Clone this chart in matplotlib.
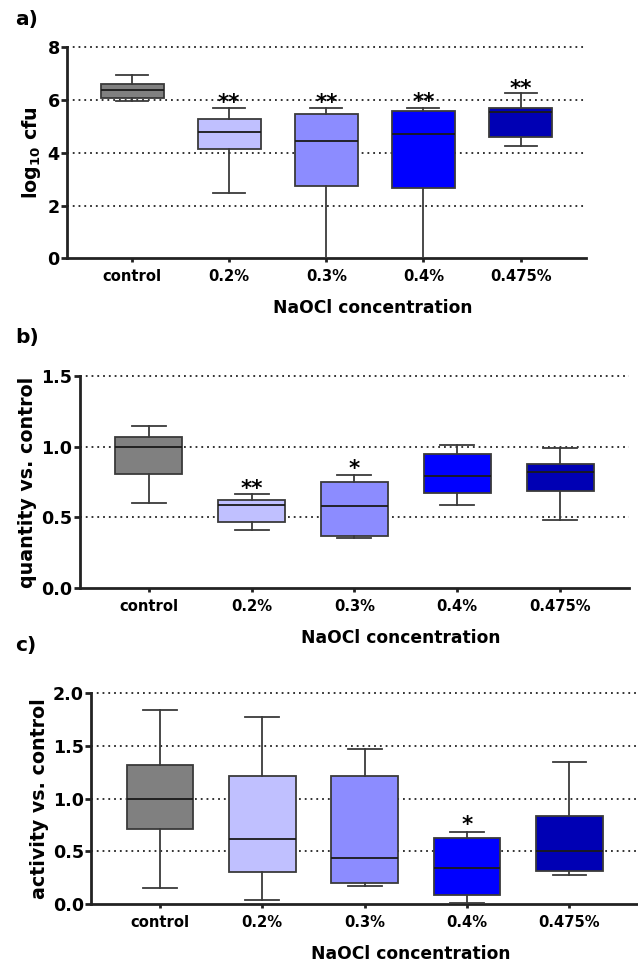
import matplotlib.pyplot as plt

plt.rcParams['font.family'] = ['DejaVu Sans']
plt.rcParams['font.weight'] = 'bold'

categories = ["control", "0.2%", "0.3%", "0.4%", "0.475%"]
colors = ["#808080", "#c0c0ff", "#8c8cff", "#0000ff", "#0000b4"]

# box stats per group: (whisker low, Q1, median, Q3, whisker high)
cfu_stats = [
    (5.97, 6.08, 6.38, 6.60, 6.95),
    (2.48, 4.16, 4.77, 5.27, 5.68),
    (0.0, 2.76, 4.46, 5.48, 5.68),
    (0.0, 2.65, 4.71, 5.60, 5.68),
    (4.25, 4.59, 5.53, 5.70, 6.25),
]
cfu_stars = ["", "**", "**", "**", "**"]
cfu_star_y = [0, 5.88, 5.88, 5.92, 6.40]

quantity_stats = [
    (0.601, 0.804, 1.0, 1.066, 1.149),
    (0.413, 0.467, 0.590, 0.620, 0.663),
    (0.356, 0.368, 0.580, 0.748, 0.802),
    (0.590, 0.672, 0.795, 0.946, 1.009),
    (0.479, 0.684, 0.821, 0.875, 0.990),
]
quantity_stars = ["", "**", "*", "", ""]
quantity_star_y = [0, 0.70, 0.84, 0, 0]

activity_stats = [
    (0.158, 0.711, 0.998, 1.321, 1.836),
    (0.038, 0.306, 0.616, 1.217, 1.773),
    (0.174, 0.202, 0.436, 1.213, 1.472),
    (0.010, 0.092, 0.341, 0.629, 0.686),
    (0.278, 0.319, 0.506, 0.837, 1.352),
]
activity_stars = ["", "", "", "*", ""]
activity_star_y = [0, 0, 0, 0.75, 0]


def drawPanel(ax, stats, stars, starY, ylim, yticks, yticklabels, ylabel):
    bxp = []
    for s in stats:
        bxp.append({"whislo": s[0], "q1": s[1], "med": s[2], "q3": s[3],
                    "whishi": s[4], "fliers": []})
    res = ax.bxp(bxp, positions=range(len(stats)), widths=0.65,
                 patch_artist=True, showfliers=False,
                 boxprops=dict(linewidth=1.3, edgecolor="#3a3a3a"),
                 medianprops=dict(color="#1a1a1a", linewidth=1.3),
                 whiskerprops=dict(color="#3a3a3a", linewidth=1.3),
                 capprops=dict(color="#3a3a3a", linewidth=1.3),
                 zorder=3)
    for patch, c in zip(res["boxes"], colors):
        patch.set_facecolor(c)
    for cap in res["caps"]:
        x = cap.get_xdata()
        mid = (x[0] + x[1]) / 2
        cap.set_xdata([mid - 0.165, mid + 0.165])
    for i, st in enumerate(stars):
        if st:
            ax.text(i, starY[i], st, ha="center", va="center", fontsize=15.5,
                    fontweight="bold", zorder=4)
    ax.set_ylim(ylim)
    ax.set_xlim(-0.67, 4.67)
    ax.set_yticks(yticks)
    ax.set_yticklabels(yticklabels, fontsize=12.6, fontweight="bold")
    for t in yticks[1:]:
        ax.axhline(t, color="#222222", linestyle=(0, (1, 2.2)), linewidth=1.3,
                   zorder=1, clip_on=False)
    ax.set_xticks(range(len(categories)))
    ax.set_xticklabels(categories, fontsize=10.6, fontweight="bold")
    ax.set_ylabel(ylabel, fontsize=13.7, fontweight="bold", labelpad=3)
    ax.set_xlabel("NaOCl concentration", fontsize=12.3, fontweight="bold")
    w = ax.get_position().width * 638
    h = ax.get_position().height * 964
    ax.xaxis.set_label_coords(0.5 + 46 / w, -50 / h)
    ax.xaxis.label.set_va("center")
    for side in ["top", "right"]:
        ax.spines[side].set_visible(False)
    for side in ["left", "bottom"]:
        ax.spines[side].set_linewidth(2)
        ax.spines[side].set_color("#222222")
    ax.tick_params(axis="x", direction="out", width=2, length=3,
                   color="#222222", pad=5)
    ax.tick_params(axis="y", direction="out", width=2, length=4.3,
                   color="#222222", pad=1)


fig = plt.figure(figsize=(6.38, 9.64), dpi=100)
axA = fig.add_axes([0.105, 0.732, 0.813, 0.219])
axB = fig.add_axes([0.125, 0.390, 0.861, 0.220])
axC = fig.add_axes([0.143, 0.062, 0.857, 0.219])

drawPanel(axA, cfu_stats, cfu_stars, cfu_star_y, (0, 8), [0, 2, 4, 6, 8],
          ["0", "2", "4", "6", "8"], r"log$_{\mathbf{10}}$ cfu")
drawPanel(axB, quantity_stats, quantity_stars, quantity_star_y, (0, 1.5),
          [0.0, 0.5, 1.0, 1.5], ["0.0", "0.5", "1.0", "1.5"],
          "quantity vs. control")
drawPanel(axC, activity_stats, activity_stars, activity_star_y, (0, 2.0),
          [0.0, 0.5, 1.0, 1.5, 2.0], ["0.0", "0.5", "1.0", "1.5", "2.0"],
          "activity vs. control")

for letter, ypx in [("a)", 10), ("b)", 328), ("c)", 636)]:
    fig.text(15 / 638, 1 - ypx / 964, letter, fontsize=14.5,
             fontweight="bold", ha="left", va="top")

fig.savefig("out.png", dpi=100)
